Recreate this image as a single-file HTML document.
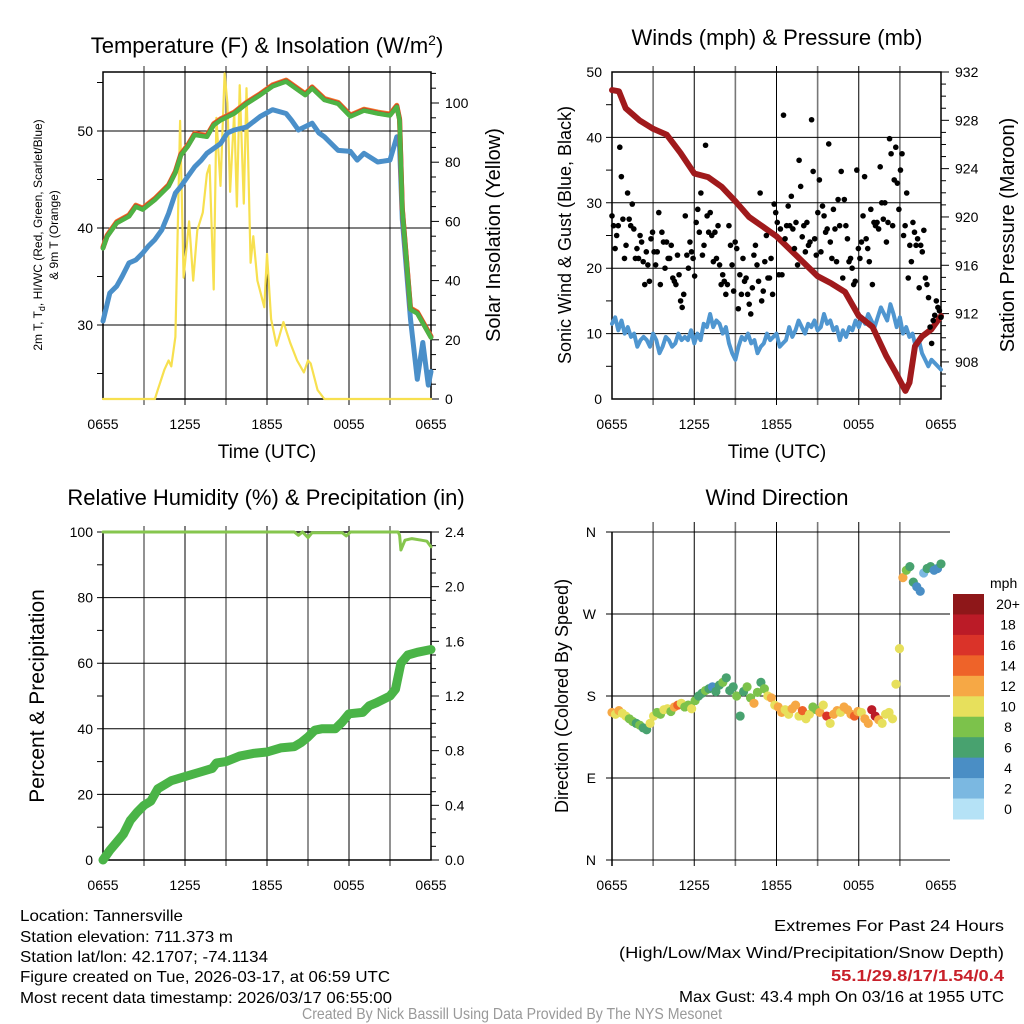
<!DOCTYPE html>
<html><head><meta charset="utf-8">
<style>
html,body{margin:0;padding:0;background:#fff;}
svg{display:block;font-family:"Liberation Sans",Arial,sans-serif;}
.tk{font-size:14px;fill:#000;}
.ft{font-family:"Liberation Sans Narrow","Liberation Sans",sans-serif;font-size:16px;}
</style></head>
<body>
<svg id="fig" width="1024" height="1024" viewBox="0 0 1024 1024" xmlns="http://www.w3.org/2000/svg">
<text x="267" y="53" text-anchor="middle" font-size="22">Temperature (F) &amp; Insolation (W/m<tspan dy="-8" font-size="14">2</tspan><tspan dy="8">)</tspan></text>
<text x="777" y="45" text-anchor="middle" font-size="22">Winds (mph) &amp; Pressure (mb)</text>
<text x="266" y="505" text-anchor="middle" font-size="22">Relative Humidity (%) &amp; Precipitation (in)</text>
<text x="777" y="505" text-anchor="middle" font-size="22">Wind Direction</text>

<text x="267" y="458" text-anchor="middle" font-size="19">Time (UTC)</text>
<text x="777" y="458" text-anchor="middle" font-size="19">Time (UTC)</text>
<text transform="translate(42,235) rotate(-90)" text-anchor="middle" font-size="12">2m T, T<tspan dy="3" font-size="9">d</tspan><tspan dy="-3">, HI/WC (Red, Green, Scarlet/Blue)</tspan></text>
<text transform="translate(58,235) rotate(-90)" text-anchor="middle" font-size="12">&amp; 9m T (Orange)</text>
<text transform="translate(500,235) rotate(-90)" text-anchor="middle" font-size="20">Solar Insolation (Yellow)</text>
<text transform="translate(571,235) rotate(-90)" text-anchor="middle" font-size="18">Sonic Wind &amp; Gust (Blue, Black)</text>
<text transform="translate(1014,235) rotate(-90)" text-anchor="middle" font-size="20">Station Pressure (Maroon)</text>
<text transform="translate(44,696) rotate(-90)" text-anchor="middle" font-size="21">Percent &amp; Precipitation</text>
<text transform="translate(568,696) rotate(-90)" text-anchor="middle" font-size="18">Direction (Colored By Speed)</text>

<g class="ft">
<text x="20" y="921" textLength="163" lengthAdjust="spacingAndGlyphs">Location: Tannersville</text>
<text x="20" y="942" textLength="213" lengthAdjust="spacingAndGlyphs">Station elevation: 711.373 m</text>
<text x="20" y="962" textLength="248" lengthAdjust="spacingAndGlyphs">Station lat/lon: 42.1707; -74.1134</text>
<text x="20" y="982" textLength="370" lengthAdjust="spacingAndGlyphs">Figure created on Tue, 2026-03-17, at 06:59 UTC</text>
<text x="20" y="1003" textLength="372" lengthAdjust="spacingAndGlyphs">Most recent data timestamp: 2026/03/17 06:55:00</text>
</g>
<g class="ft">
<text x="774" y="931" textLength="230" lengthAdjust="spacingAndGlyphs">Extremes For Past 24 Hours</text>
<text x="619" y="958" textLength="385" lengthAdjust="spacingAndGlyphs">(High/Low/Max Wind/Precipitation/Snow Depth)</text>
<text x="831" y="981" textLength="173" lengthAdjust="spacingAndGlyphs" font-weight="bold" fill="#c8202a">55.1/29.8/17/1.54/0.4</text>
<text x="679" y="1002" textLength="325" lengthAdjust="spacingAndGlyphs">Max Gust: 43.4 mph On 03/16 at 1955 UTC</text>
</g>
<text x="302" y="1019" textLength="420" lengthAdjust="spacingAndGlyphs" class="ft" font-size="13" fill="#999">Created By Nick Bassill Using Data Provided By The NYS Mesonet</text>
</svg>
<script>
// ---- data ----
const xTickLabels = ["0655","1255","1855","0055","0655"];
const tempHours = [0,0.3,1,1.9,2.4,2.9,3.8,4.8,5.3,5.7,6.2,6.7,7.6,8.1,8.6,9.6,10.5,11.5,12.4,13.4,14.3,14.8,15.3,16.2,17.2,18.1,19.1,20.1,21,21.5,21.7,21.9,22.5,23,24];
const tempVals = [37.9,39.1,40.5,41.2,42.2,41.9,42.9,44.3,45.7,47.5,48.4,49.6,49.4,50.6,51.1,51.8,52.8,53.7,54.6,55.1,54.2,53.7,54.4,53.2,52.8,51.5,52.1,51.8,51.6,52.5,51.1,41.9,31.6,31.2,28.7];
const dewHours = [0,0.5,1,1.4,1.9,2.4,2.9,3.3,3.8,4.3,4.8,5.3,5.7,6.2,6.7,7.2,7.6,8.6,9.1,9.6,10.5,11.5,12.4,13.4,13.8,14.3,15.3,15.8,16.2,17.2,18.1,18.6,19.1,20.1,21,21.5,21.7,21.9,22.5,23.0,23.4,23.8,24];
const dewVals = [30.4,33.3,34,35,36.4,36.7,37.4,38.1,38.8,39.8,41.5,43.6,44.3,45.3,46.3,47,47.7,48.7,49.8,50.1,50.4,51.5,52.2,51.8,51.1,50.1,50.8,49.8,49.4,48,47.9,47,47.7,46.8,47,49.4,48.4,40.9,30.6,24.4,28.2,23.8,25.2];
const solarHours = [0,3.8,4,4.5,4.8,5,5.3,5.64,5.9,6.3,6.6,6.9,7.3,7.6,7.8,8.1,8.3,8.6,8.9,9.1,9.3,9.6,9.8,10,10.3,10.5,10.8,11,11.3,11.8,12,12.3,12.7,13.2,13.7,14.2,14.7,15,15.2,15.7,16.2,24];
const solarVals = [0,0,3,10,13,11,21,94,41,60,40,57,63,76,79,37,95,72,110,100,70,97,65,106,66,105,46,55,40,31,49,27,18,26,19,13,9,13,12,3,0,0];

const sustVals = [11.5,12.5,10.5,12,10,11,9.5,10,8,9,9.5,9,8,10,9,7,8,9.5,9,8,8.5,10,9,9.5,9,10.5,8.5,10,9,11.5,11,13,11,12,11.5,10,11,8.5,7,6,8,9.5,9,10,8.5,9,7,8,8.5,10,9,9.5,10,8,8.5,9,11,9.5,10.5,12,11,10,11.5,11,12,10.5,11,13,11.5,12,10.5,11,9,10.5,9.5,11,10.5,12,11,12.5,11.5,13,12,11,12.5,14,13,12,14.5,13,11,12.5,10,11,9.5,10,8,9,7,6,5,6,5.5,5,4.5];
const gustVals = [28,26.5,23,25,26.5,38.5,34,27.5,21.5,23.5,31.5,27.5,26.5,29.8,26,21.5,23,21.5,25,24,21,17.5,22.5,20.5,18,24.5,25.5,22.5,20.5,22.5,28.5,17.5,25.5,24,20,24,21.5,21.5,23.5,18.5,18,17.5,22,19,15,14,16,28,22,20,24,22.5,21.5,18.8,27,29,25.5,31.5,22,23.5,38.8,28,25.5,28.5,25,21,25.5,21.5,26.5,20.5,17.5,19,18,16,17.5,26.5,23.5,20.5,16.5,24,23,13.8,19,16,21.5,18,18.5,16,14.5,13,17,22,23.5,20.5,18,31.5,15,16.5,21,25,18.5,18.5,21.5,16,29.8,28.5,27,19,26,19,43.4,24.5,26.5,29.5,26.5,31,26,23,27,20.5,36.5,32.5,24.8,26.5,22.5,27,23.5,24,42.7,34.8,24.5,22,28.5,33.5,22.5,29.5,28,25.5,26,39,24,21.5,29,26,21,30.5,26.5,34.8,18.5,30.5,26.5,24.5,21,21.5,20,17.5,18,35,23,21.5,24,28,34,24.5,23,21,29,17.5,27,26.5,27,26,35.5,30,27.5,30,24,27,39.8,37.5,26.5,33.5,38.5,33,29,35,37.5,25,26.5,31.5,18.5,23.5,21,27,25.5,23.5,24.5,17,23.5,22.5,25.8,18.5,17.5,15.5,11,8.5,12,12.8,15,14,13.5,12.5];
const presHours = [0,0.5,1,2,3,4,5,6,7,8,9,10,11,12,13,14,15,16,17,18,19,20,20.7,21.4,21.7,22.1,22.6,23.3,24];
const presVals = [930.5,930.4,929.0,928.0,927.3,926.8,925.3,923.6,923.3,922.5,921.3,920.0,919.2,918.4,917.3,916.2,915.1,914.5,913.8,911.8,910.9,908.5,907.1,905.6,906.3,909.3,910.1,910.7,911.8];

const rhHours = [0,14,14.3,14.6,15,15.3,17.5,17.8,18.1,21.6,21.7,21.8,22.1,22.6,23.3,23.7,24];
const rhVals = [100,100,99,100,98.3,99.8,99.8,98.8,100,100,99,94.5,97.5,98,97.5,97.2,95.5];
const precHours = [0,0.5,1,1.5,2,2.5,3,3.5,4,4.5,5,6,7,8,8.3,9,10,11,12,13,14,14.5,15,15.5,16,17,17.5,18,19,19.5,20,21,21.4,21.8,22.3,23,24];
const precVals = [0,0.07,0.13,0.19,0.29,0.35,0.40,0.43,0.52,0.55,0.58,0.61,0.64,0.67,0.71,0.72,0.76,0.78,0.79,0.82,0.83,0.86,0.90,0.95,0.96,0.96,1.01,1.07,1.08,1.13,1.15,1.20,1.25,1.44,1.50,1.52,1.54];

const dirVals = [162,160,164,161,158,155,152,150,148,145,143,150,158,162,160,165,166,163,168,170,172,168,170,166,175,180,183,186,188,190,185,192,195,200,186,190,180,158,185,190,178,172,184,195,188,180,178,170,168,162,165,160,166,170,158,164,155,160,168,165,162,170,158,150,160,164,162,168,165,160,158,163,162,155,150,165,158,154,150,160,162,155,193,232,310,318,322,305,300,295,315,320,322,318,320,325];
const spdVals = [12,11,12,10,10,8,8,7,8,7,7,10,10,9,8,10,10,9,12,15,10,9,8,10,8,7,6,8,7,5,6,7,8,7,6,7,8,6,7,8,8,13,8,6,9,10,12,11,12,13,11,10,12,12,10,15,11,10,8,9,12,11,16,10,12,13,11,12,13,12,14,12,11,13,12,18,19,12,10,11,10,11,10,11,12,8,7,6,5,4,3,6,6,5,4,6];
const speedBinLabels = ["0","2","4","6","8","10","12","14","16","18","20+"];
const speedBinColors = ["#b5e2f6","#7bb8e1","#4a8ec5","#48a26f","#7cc24b","#e7e05c","#f6a845","#ee6329","#da3329","#bb1b27","#8e1719"];

// ---- helpers ----
const NS = "http://www.w3.org/2000/svg";
const svg = document.getElementById("fig");
function mk(tag, attrs, parent) {
  const e = document.createElementNS(NS, tag);
  for (const k in attrs) e.setAttribute(k, attrs[k]);
  (parent || svg).appendChild(e);
  return e;
}
function line(x1,y1,x2,y2,stroke,w,name,parent){
  const e = mk("line",{x1:x1,y1:y1,x2:x2,y2:y2,stroke:stroke,"stroke-width":w},parent);
  
  
  return e;
}
function txt(x,y,s,anchor,name,parent,extra){
  const e = mk("text",Object.assign({x:x,y:y,"text-anchor":anchor,class:"tk"},extra||{}),parent);
  e.textContent = s;
  
  
  return e;
}
function polyline(hours, vals, xf, yf, stroke, w, name, parent){
  const pts = hours.map((h,i)=>xf(h).toFixed(1)+","+yf(vals[i]).toFixed(1)).join(" ");
  const e = mk("polyline",{points:pts,fill:"none",stroke:stroke,"stroke-width":w,"stroke-linejoin":"round","stroke-linecap":"round"},parent);
  
  
  return e;
}
function panelFrame(x0,x1,y0,y1,prefix,box){
  const g = mk("g",{});
  
  
  for(let k=1;k<8;k++){
    const x = x0+(x1-x0)*k/8;
    line(x,y0-6,x,y1+6,k%2?"#777":"#000",k%2?1.6:1,prefix+'-vgrid',g);
  }
  xTickLabels.forEach((s,i)=>{
    const x = x0+(x1-x0)*i/4;
    txt(x,y1+30,s,"middle",prefix+'-x-tick-label',g);
  });
  if(box){
    const r = mk("rect",{x:x0,y:y0,width:x1-x0,height:y1-y0,fill:"none",stroke:"#000","stroke-width":1.5},g);
    
    
  }
  return g;
}

// ===== Panel 1: temperature =====
const P1 = {x0:103,x1:431,y0:72,y1:399};
const t1x = h => P1.x0 + h*(P1.x1-P1.x0)/24;
const t1y = v => 131 - (v-50)*9.7;
const s1y = v => 399 - v*2.96;
const g1 = panelFrame(P1.x0,P1.x1,P1.y0,P1.y1,'temp',true);
[30,40,50].forEach(v=>{ line(P1.x0-6,t1y(v),P1.x1,t1y(v),"#000",1,'temp-hgrid',g1); txt(P1.x0-10,t1y(v)+5,String(v),"end",'temp-y-tick-label',g1); });
[25,35,45,55].forEach(v=>line(P1.x0-6,t1y(v),P1.x0,t1y(v),"#000",1,'temp-minor-tick',g1));
for(let v=0;v<=110;v+=5){ const big=v%20===0; line(P1.x1,s1y(v),P1.x1+(big?8:5),s1y(v),"#000",1,'solar-tick',g1); if(big) txt(P1.x1+14,s1y(v)+5,String(v),"start",'solar-y-tick-label',g1); }
polyline(solarHours,solarVals,t1x,s1y,"#f7e04f",2.2,'solar-line');
polyline(dewHours,dewVals,t1x,t1y,"#4a8fc9",5,'dewpoint-line');
polyline(tempHours,tempVals.map(v=>v+0.15),t1x,t1y,"#f07a2a",5,'9m-temp-line');
polyline(tempHours,tempVals.map(v=>v+0.05),t1x,t1y,"#d8332a",5,'2m-temp-line');
polyline(tempHours,tempVals,t1x,t1y,"#4db344",4.5,'heat-index-line');

// ===== Panel 2: winds & pressure =====
const P2 = {x0:612,x1:941,y0:72,y1:399};
const t2x = h => P2.x0 + h*(P2.x1-P2.x0)/24;
const w2y = v => 399 - v*6.54;
const p2y = p => 72 + (932-p)*12.08;
const g2 = panelFrame(P2.x0,P2.x1,P2.y0,P2.y1,'wind',true);
[10,20,30,40].forEach(v=>line(P2.x0-6,w2y(v),P2.x1,w2y(v),"#000",1,'wind-hgrid',g2));
[0,10,20,30,40,50].forEach(v=>txt(P2.x0-10,w2y(v)+5,String(v),"end",'wind-y-tick-label',g2));
[5,15,25,35,45].forEach(v=>line(P2.x0-6,w2y(v),P2.x0,w2y(v),"#000",1,'wind-minor-tick',g2));
for(let p=906;p<=932;p++){ const big=p%4===0; line(P2.x1,p2y(p),P2.x1+(big?8:5),p2y(p),"#000",1,'pressure-tick',g2); if(big) txt(P2.x1+14,p2y(p)+5,String(p),"start",'pressure-y-tick-label',g2); }
const sustHours = sustVals.map((v,i)=>i*24/(sustVals.length-1));
polyline(sustHours,sustVals,t2x,w2y,"#4f96d0",4,'sustained-wind-line');
polyline(presHours,presVals,t2x,p2y,"#a01a1c",6,'pressure-line');
const gg = mk("g",{});


gustVals.forEach((v,i)=>{
  const c = mk("circle",{cx:t2x(i*24/(gustVals.length-1)),cy:w2y(v),r:2.8,fill:"#000"},gg);
  
  
});

// ===== Panel 3: RH & precipitation =====
const P3 = {x0:103,x1:431,y0:532,y1:860};
const t3x = h => P3.x0 + h*(P3.x1-P3.x0)/24;
const r3y = v => 860 - v*3.28;
const q3y = v => 860 - v*136.67;
const g3 = panelFrame(P3.x0,P3.x1,P3.y0,P3.y1,'rh',true);
[20,40,60,80,100].forEach(v=>line(P3.x0-6,r3y(v),P3.x1,r3y(v),"#000",1,'rh-hgrid',g3));
[0,20,40,60,80,100].forEach(v=>txt(P3.x0-10,r3y(v)+5,String(v),"end",'rh-y-tick-label',g3));
[10,30,50,70,90].forEach(v=>line(P3.x0-6,r3y(v),P3.x0,r3y(v),"#000",1,'rh-minor-tick',g3));
for(let k=0;k<=24;k++){ const v=k*0.1; const big=k%4===0; line(P3.x1,q3y(v),P3.x1+(big?8:5),q3y(v),"#000",1,'precip-tick',g3); if(big) txt(P3.x1+14,q3y(v)+5,v.toFixed(1),"start",'precip-y-tick-label',g3); }
polyline(precHours,precVals,t3x,q3y,"#4ab447",9,'precip-line');
polyline(rhHours,rhVals,t3x,r3y,"#86c64e",3,'rh-line');

// ===== Panel 4: wind direction =====
const P4 = {x0:612,x1:941,y0:532,y1:860};
const t4x = h => P4.x0 + h*(P4.x1-P4.x0)/24;
const d4y = d => 860 - d*0.911;
const g4 = panelFrame(P4.x0,P4.x1,P4.y0-4,P4.y1,'wdir',false);
line(P4.x0,P4.y0,P4.x0,P4.y1+6,"#000",1.5,'wdir-y-axis',g4);
[[0,"N"],[90,"E"],[180,"S"],[270,"W"],[360,"N"]].forEach(([d,s])=>{
  line(P4.x0-6,d4y(d),950,d4y(d),"#000",1,'wdir-hgrid',g4);
  txt(P4.x0-16,d4y(d)+5,s,"end",'wdir-y-tick-label',g4);
});
const gd = mk("g",{});


dirVals.forEach((d,i)=>{
  const bin = Math.min(10,Math.floor(spdVals[i]/2));
  const c = mk("circle",{cx:t4x(i*24/(dirVals.length-1)),cy:d4y(d),r:4.6,fill:speedBinColors[bin]},gd);
  
  
});
// colorbar
const gc = mk("g",{});


txt(990,588,"mph","start",'colorbar-title',gc);
const cbTop=594, cbH=225/11;
for(let k=0;k<11;k++){
  const idx = 10-k;
  const r = mk("rect",{x:953,y:cbTop+k*cbH,width:31,height:cbH+0.5,fill:speedBinColors[idx]},gc);
  
  
  txt(1008,cbTop+k*cbH+cbH/2+5,speedBinLabels[idx],"middle",'colorbar-label',gc);
}
</script>
</body></html>
